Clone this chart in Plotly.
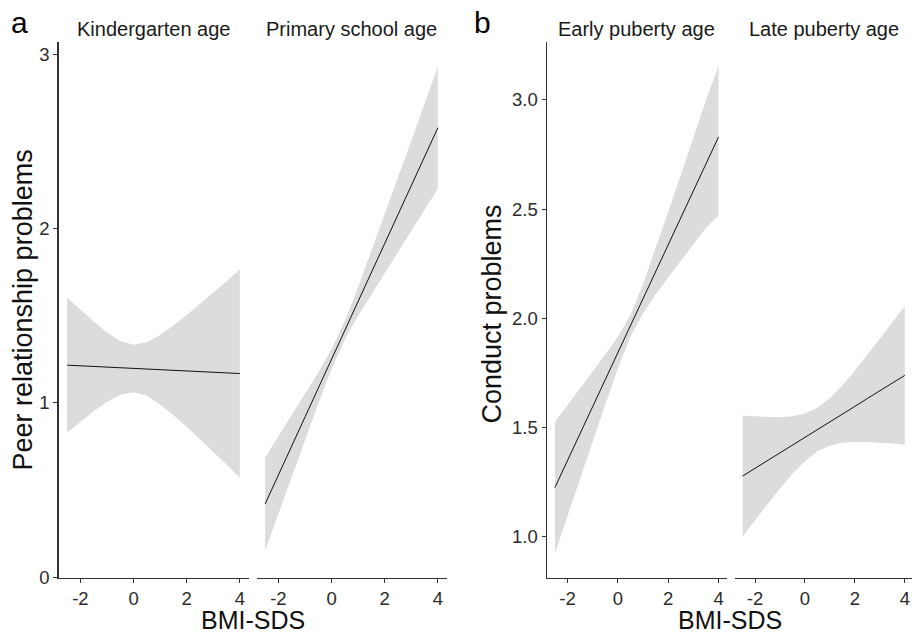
import plotly.graph_objects as go

# ---------------- data ----------------
bmi_sds = [-2.5, -2.0, -1.5, -1.0, -0.5, 0.0, 0.5, 1.0, 1.5, 2.0, 2.5, 3.0, 3.5, 4.0]

# a: Peer relationship problems
kinder_fit   = [1.216, 1.212, 1.209, 1.205, 1.201, 1.197, 1.194, 1.190, 1.186, 1.183, 1.179, 1.175, 1.172, 1.168]
kinder_upper = [1.604, 1.533, 1.466, 1.404, 1.355, 1.333, 1.348, 1.389, 1.443, 1.504, 1.567, 1.631, 1.698, 1.765]
kinder_lower = [0.828, 0.891, 0.952, 1.006, 1.047, 1.061, 1.040, 0.991, 0.929, 0.862, 0.791, 0.719, 0.646, 0.571]

primary_fit   = [0.420, 0.586, 0.752, 0.918, 1.084, 1.250, 1.416, 1.582, 1.748, 1.914, 2.080, 2.246, 2.412, 2.578]
primary_upper = [0.687, 0.807, 0.928, 1.050, 1.174, 1.307, 1.469, 1.664, 1.871, 2.081, 2.292, 2.504, 2.716, 2.928]
primary_lower = [0.153, 0.365, 0.576, 0.786, 0.994, 1.193, 1.363, 1.500, 1.625, 1.747, 1.868, 1.988, 2.108, 2.228]

# b: Conduct problems
early_fit   = [1.224, 1.348, 1.471, 1.595, 1.718, 1.842, 1.965, 2.089, 2.212, 2.336, 2.459, 2.583, 2.706, 2.830]
early_upper = [1.525, 1.602, 1.677, 1.754, 1.832, 1.915, 2.015, 2.156, 2.317, 2.486, 2.656, 2.827, 2.998, 3.155]
early_lower = [0.923, 1.094, 1.265, 1.436, 1.604, 1.769, 1.915, 2.022, 2.107, 2.186, 2.262, 2.339, 2.414, 2.470]

late_fit   = [1.277, 1.312, 1.348, 1.383, 1.419, 1.454, 1.490, 1.525, 1.561, 1.596, 1.632, 1.667, 1.703, 1.738]
late_upper = [1.554, 1.549, 1.547, 1.546, 1.551, 1.563, 1.590, 1.634, 1.693, 1.759, 1.831, 1.904, 1.980, 2.056]
late_lower = [1.000, 1.075, 1.149, 1.220, 1.287, 1.345, 1.390, 1.416, 1.429, 1.433, 1.433, 1.430, 1.426, 1.420]

panel_titles = ["Kindergarten age", "Primary school age", "Early puberty age", "Late puberty age"]
x_tickvals = [-2, 0, 2, 4]
x_ticktext = ["-2", "0", "2", "4"]
ya_tickvals = [0, 1, 2, 3]
ya_ticktext = ["0", "1", "2", "3"]
yb_tickvals = [1.0, 1.5, 2.0, 2.5, 3.0]
yb_ticktext = ["1.0", "1.5", "2.0", "2.5", "3.0"]
x_title = "BMI-SDS"
ya_title = "Peer relationship problems"
yb_title = "Conduct problems"
panel_letters = ["a", "b"]

# ---------------- figure ----------------
W, H = 912, 634
FONT = "'Liberation Sans', Arial, sans-serif"
RIBBON = "#DCDCDC"
AX = "#333333"

def px(x):
    return x / W

def py(y):
    return 1 - y / H

y_dom = [py(578), py(42)]
x_doms = [[px(58.5), px(248.5)], [px(256.5), px(446.5)],
          [px(546.7), px(726.7)], [px(734.5), 1.0]]
x_ranges = [[-2.825, 4.325], [-2.825, 4.325], [-2.825, 4.325], [-2.825, 4.29]]
y_ranges = [[-0.005, 3.07], [-0.005, 3.07], [0.81, 3.265], [0.81, 3.265]]

series = [
    (kinder_fit, kinder_upper, kinder_lower),
    (primary_fit, primary_upper, primary_lower),
    (early_fit, early_upper, early_lower),
    (late_fit, late_upper, late_lower),
]

fig = go.Figure()
for i, (fit, up, lo) in enumerate(series):
    xa = "x" if i == 0 else f"x{i+1}"
    ya = "y" if i == 0 else f"y{i+1}"
    fig.add_trace(go.Scatter(
        x=bmi_sds + bmi_sds[::-1], y=up + lo[::-1],
        fill="toself", fillcolor=RIBBON, line=dict(width=0),
        mode="lines", hoverinfo="skip", showlegend=False,
        xaxis=xa, yaxis=ya))
    fig.add_trace(go.Scatter(
        x=bmi_sds, y=fit, mode="lines",
        line=dict(color="#111111", width=1),
        showlegend=False, xaxis=xa, yaxis=ya))

layout = dict(
    width=W, height=H,
    margin=dict(l=0, r=0, t=0, b=0),
    paper_bgcolor="white", plot_bgcolor="white",
    font=dict(family=FONT, color="#222222"),
    showlegend=False,
)

tickfont = dict(family=FONT, size=18.5, color="#2b2b2b")
for i in range(4):
    xk = "xaxis" if i == 0 else f"xaxis{i+1}"
    yk = "yaxis" if i == 0 else f"yaxis{i+1}"
    ya_ref = "y" if i == 0 else f"y{i+1}"
    xa_ref = "x" if i == 0 else f"x{i+1}"
    layout[xk] = dict(
        domain=x_doms[i], range=x_ranges[i], anchor=ya_ref,
        showgrid=False, zeroline=False, showline=True, linecolor=AX, linewidth=1.2,
        ticks="outside", ticklen=4, tickwidth=1, tickcolor=AX,
        tickvals=x_tickvals, ticktext=x_ticktext, tickfont=tickfont,
        automargin=False, fixedrange=True,
    )
    first = i in (0, 2)
    yvals = ya_tickvals if i < 2 else yb_tickvals
    ytext = ya_ticktext if i < 2 else yb_ticktext
    layout[yk] = dict(
        domain=y_dom, range=y_ranges[i], anchor=xa_ref,
        showgrid=False, zeroline=False, showline=first, linecolor=AX, linewidth=1.2,
        ticks="outside" if first else "", ticklen=4, tickwidth=1, tickcolor=AX,
        tickvals=yvals, ticktext=ytext, showticklabels=first, tickfont=tickfont,
        automargin=False, fixedrange=True,
    )

fig.update_layout(**layout)

annotations = []
# strip titles
strip_centers = [153.5, 351.5, 636.7, 824.0]
for t, cx in zip(panel_titles, strip_centers):
    annotations.append(dict(text=t, x=px(cx), y=py(29), xref="paper", yref="paper",
                            xanchor="center", yanchor="middle", showarrow=False,
                            font=dict(family=FONT, size=20, color="#1a1a1a")))
# x titles
for cx in (252.5, 730.0):
    annotations.append(dict(text=x_title, x=px(cx), y=py(619.5), xref="paper", yref="paper",
                            xanchor="center", yanchor="middle", showarrow=False,
                            font=dict(family=FONT, size=25, color="#111111")))
# y titles
annotations.append(dict(text=ya_title, x=px(22.5), y=py(310), xref="paper", yref="paper",
                        xanchor="center", yanchor="middle", showarrow=False, textangle=-90,
                        font=dict(family=FONT, size=27, color="#111111")))
annotations.append(dict(text=yb_title, x=px(491.5), y=py(314), xref="paper", yref="paper",
                        xanchor="center", yanchor="middle", showarrow=False, textangle=-90,
                        font=dict(family=FONT, size=27, color="#111111")))
# panel letters
annotations.append(dict(text=panel_letters[0], x=px(19), y=py(22), xref="paper", yref="paper",
                        xanchor="center", yanchor="middle", showarrow=False,
                        font=dict(family=FONT, size=30, color="#000000")))
annotations.append(dict(text=panel_letters[1], x=px(482.5), y=py(22), xref="paper", yref="paper",
                        xanchor="center", yanchor="middle", showarrow=False,
                        font=dict(family=FONT, size=30, color="#000000")))
fig.update_layout(annotations=annotations)

fig.write_html("out.html",
               config={"displayModeBar": False, "staticPlot": True},
               post_script="document.body.style.margin='0';document.body.style.overflow='hidden';")
